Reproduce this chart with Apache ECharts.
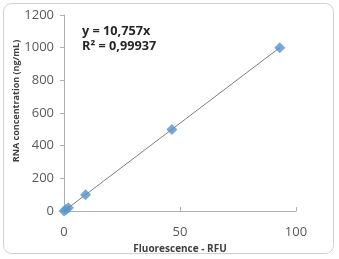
<!DOCTYPE html>
<html><head><meta charset="utf-8">
<script src="https://cdn.jsdelivr.net/npm/echarts@6/dist/echarts.min.js"></script>
<style>html,body{margin:0;padding:0;background:#fff}#c{width:339px;height:259px}</style>
</head><body>
<div id="c"></div>
<script>
var fluorescence = [0, 0.9, 1.9, 9.3, 46.5, 93];
var concentration = [0, 10, 20, 100, 500, 1000];
var slope = 10.757;
var trendX = [0, 93];
var equationText = 'y = 10,757x';
var r2Text = 'R² = 0,99937';
var xTitle = 'Fluorescence - RFU';
var yTitle = 'RNA concentration (ng/mL)';

var chart = echarts.init(document.getElementById('c'));
chart.setOption({
  animation: false,
  graphic: [
    {type:'rect', shape:{x:3.5,y:3.5,width:330,height:250,r:8}, style:{fill:'#fff', stroke:'#d0d0d0', lineWidth:1}, z:-1},
    {type:'text', left:82, top:25, style:{text:equationText, font:'bold 12.7px "Open Sans", sans-serif', fill:'#262626'}},
    {type:'text', left:82, top:40, style:{text:r2Text, font:'bold 12.7px "Open Sans", sans-serif', fill:'#262626'}},
    {type:'text', x:16, y:101, rotation:Math.PI/2,
     style:{text:yTitle, font:'bold 9px "Open Sans", sans-serif', fill:'#404040', textAlign:'center', textVerticalAlign:'middle'}}
  ],
  grid: {left:64, right:43, top:15, bottom:43},
  xAxis: {
    type:'value', min:0, max:100, interval:50,
    name:xTitle, nameLocation:'middle', nameGap:27,
    nameTextStyle:{fontWeight:'bold', fontSize:10, color:'#404040', fontFamily:'Open Sans'},
    axisLine:{lineStyle:{color:'#b0b0b0'}},
    axisTick:{show:true, inside:true, length:4, lineStyle:{color:'#b0b0b0'}},
    axisLabel:{fontSize:13, color:'#595959', fontFamily:'Open Sans', margin:15},
    splitLine:{show:false}
  },
  yAxis: {
    type:'value', min:0, max:1200, interval:200,
    axisLine:{show:true, lineStyle:{color:'#b0b0b0'}},
    axisTick:{show:true, length:4, lineStyle:{color:'#b0b0b0'}},
    axisLabel:{fontSize:13, color:'#595959', fontFamily:'Open Sans', margin:10,
      formatter:function(v){return String(v);}},
    splitLine:{show:false}
  },
  series: [
    {type:'line', data: trendX.map(function(x){return [x, slope*x];}), symbol:'none',
     lineStyle:{color:'#7f7f7f', width:1}, z:3},
    {type:'scatter', data: fluorescence.map(function(x,i){return [x, concentration[i]];}),
     symbol:'diamond', symbolSize:11, itemStyle:{color:'#5b9bd5', opacity:0.85}, z:2}
  ]
});
</script>
</body></html>
